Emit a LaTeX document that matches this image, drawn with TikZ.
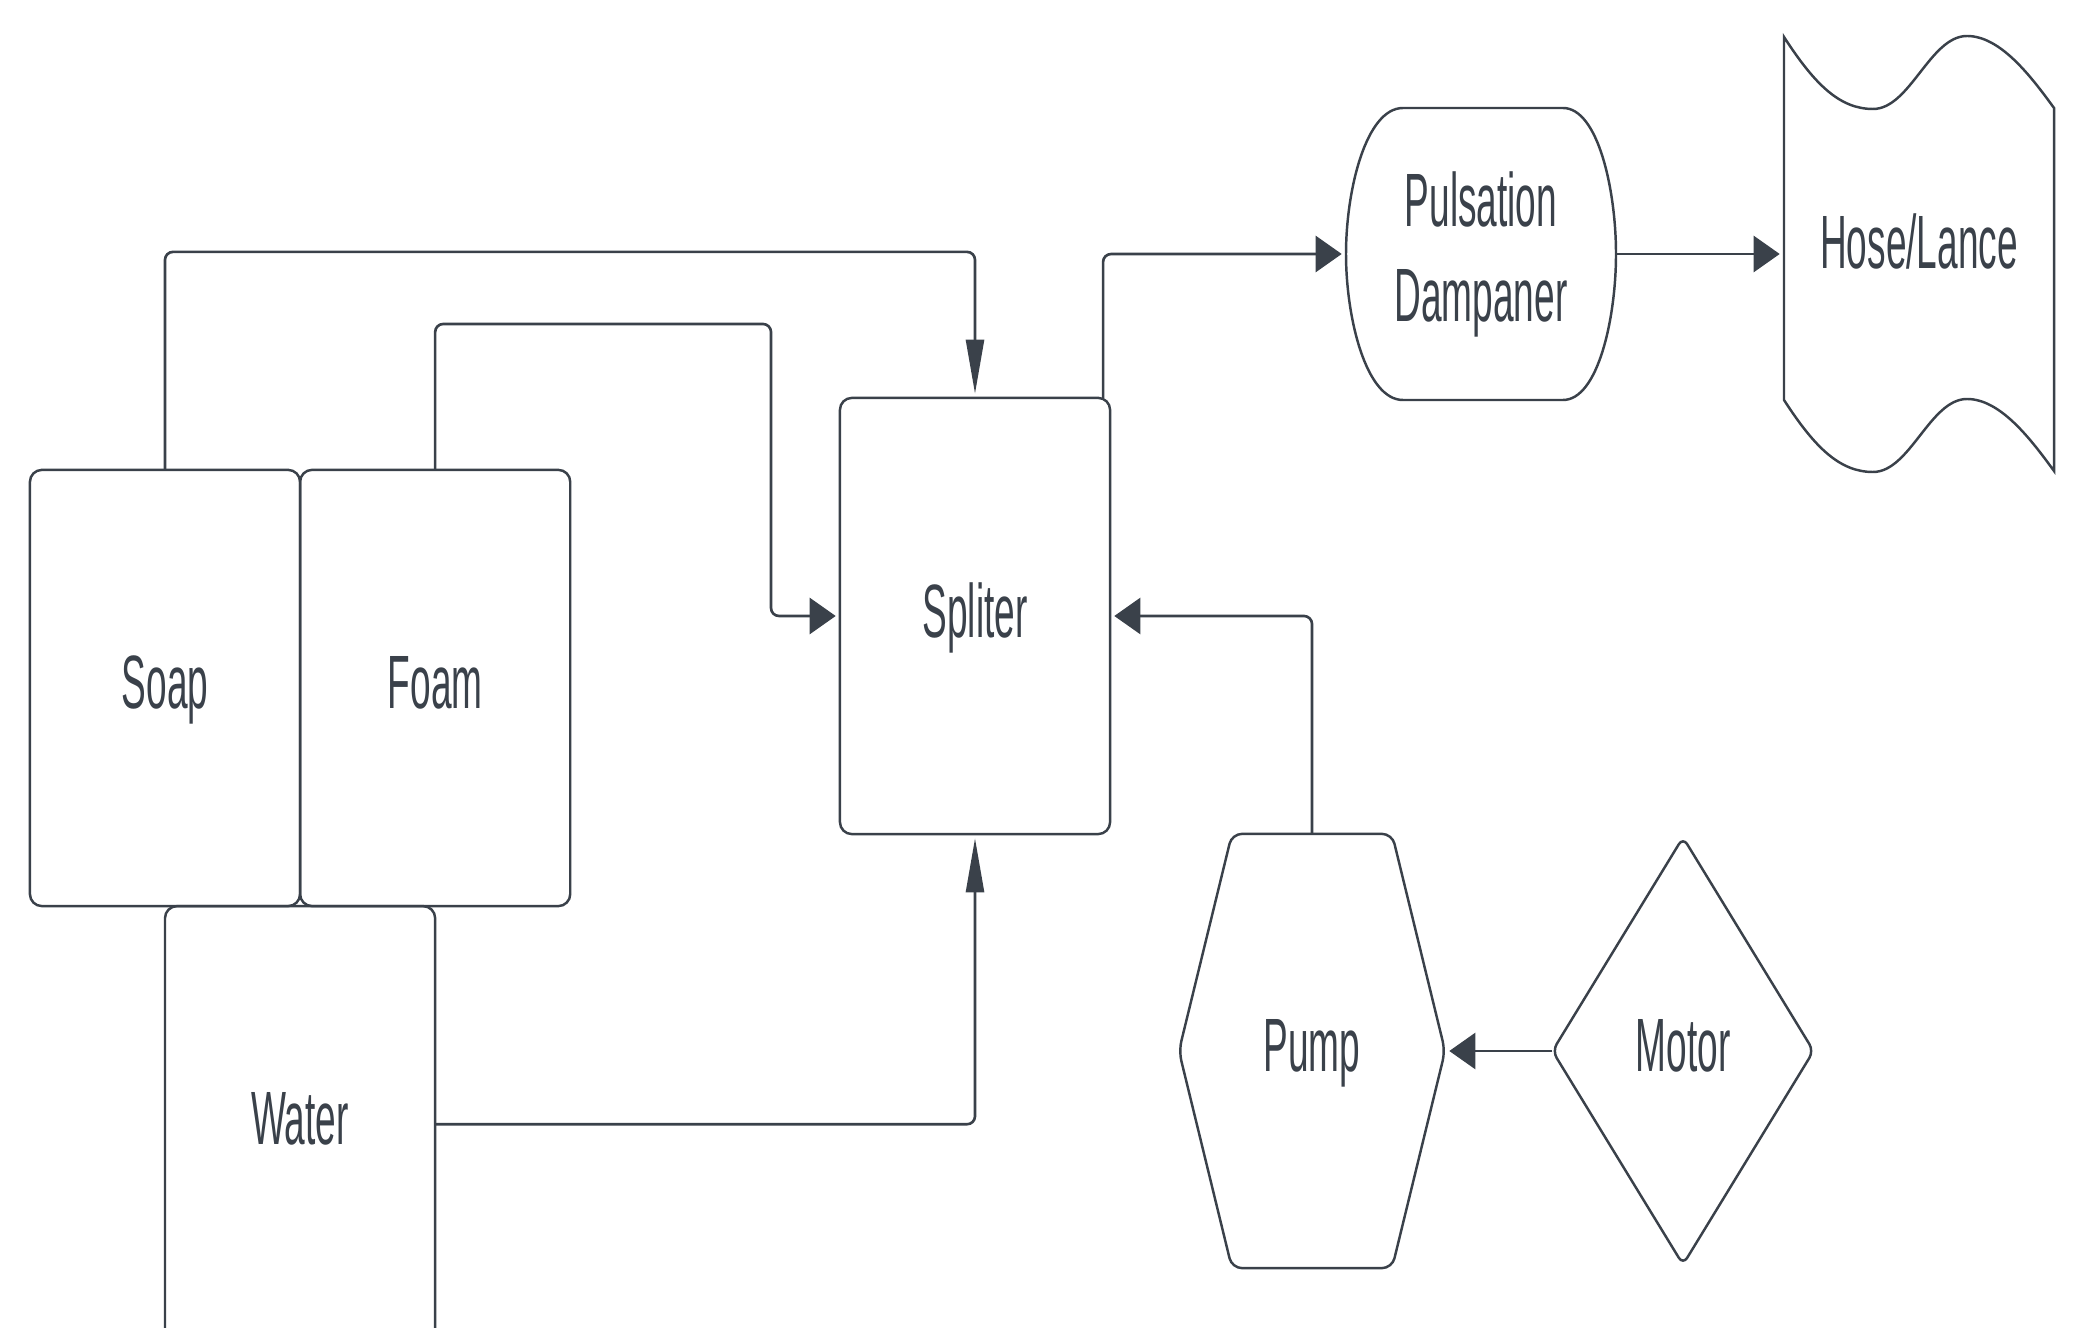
\documentclass[tikz,border=0pt]{standalone}
\usepackage{fontspec}
\newfontfamily\lblfont{Liberation Sans}[FakeStretch=0.49]
\usetikzlibrary{arrows.meta,shapes.geometric,positioning}
\definecolor{ink}{HTML}{3A414A}

\begin{document}
\begin{tikzpicture}[x=0.01cm,y=-0.01cm,
    every node/.style={font=\lblfont\fontsize{21.5}{27}\selectfont,text=ink,outer sep=0pt,inner sep=0pt},
    tank/.style={rectangle,draw=ink,line width=0.7pt,rounded corners=0.12cm,minimum width=2.7cm,minimum height=4.36cm,text depth=0.32em},
    outline/.style={draw=ink,line width=0.7pt},
    link/.style={draw=ink,line width=0.75pt,rounded corners=0.08cm,shorten >=1.2pt},
    htip/.style={-{Triangle[length=0.26cm,width=0.36cm]}},
    vtip/.style={-{Triangle[length=0.54cm,width=0.18cm]}}]
  \useasboundingbox (0,0) rectangle (2075,1328);
  \clip (0,0) rectangle (2075,1328);

  % supply tanks
  \node[tank] (soap) at (165,688) {Soap};
  \node[tank] (foam) [right=0pt of soap] {Foam};
  \node[tank] (water) [below=0pt of soap.south east] {Water};

  \node[tank] (spliter) at (975,616) {Spliter};

  % dampaner, hose, pump, motor
  \node[minimum width=2.7cm,minimum height=2.92cm,align=center] (damp) at (1481,254) {Pulsation\\Dampaner};
  \draw[outline] (1403,108) -- (1563,108) .. controls (1598,108) and (1616,190) .. (1616,254)
    .. controls (1616,318) and (1598,400) .. (1563,400) -- (1403,400)
    .. controls (1366,400) and (1346,318) .. (1346,254) .. controls (1346,190) and (1366,108) .. (1403,108) -- cycle;

  \node[minimum width=2.7cm] (hose) at (1919,241) {Hose/Lance};
  \draw[outline] (1784,37) .. controls (1815,85) and (1840,109) .. (1873,109)
    .. controls (1910,109) and (1930,36) .. (1967,36) .. controls (2000,36) and (2030,75) .. (2054,108)
    -- (2054,471) .. controls (2030,438) and (2000,399) .. (1967,399)
    .. controls (1930,399) and (1910,472) .. (1873,472) .. controls (1840,472) and (1815,448) .. (1784,400) -- cycle;

  \node[minimum width=2.66cm,minimum height=4.34cm,text depth=0.32em] (pump) at (1312,1051) {Pump};
  \draw[outline,rounded corners=0.1cm] (pump.west) -- ([xshift=0.53cm]pump.north west)
    -- ([xshift=-0.53cm]pump.north east) -- (pump.east) -- ([xshift=-0.53cm]pump.south east)
    -- ([xshift=0.53cm]pump.south west) -- cycle;

  \node[diamond,draw=ink,line width=0.7pt,rounded corners=0.08cm,minimum width=2.61cm,minimum height=4.27cm,text depth=0.32em] (motor) at (1683,1051) {Motor};

  % connectors
  \draw[link,vtip] (soap.north) -- ++(0,-218) -| (spliter.north);
  \draw[link,htip] (foam.north) |- (771,324) |- (spliter.west);
  \draw[link,vtip] (water.east) -| (spliter.south);
  \draw[link,htip] (pump.north) |- (spliter.east);
  \draw[link,htip] ([xshift=-0.07cm]spliter.north east) |- (damp.west);
  \draw[link,htip] (damp.east) -- (damp.east -| hose.west);
  \draw[link,htip] (motor.west) -- (pump.east);
\end{tikzpicture}
\end{document}
